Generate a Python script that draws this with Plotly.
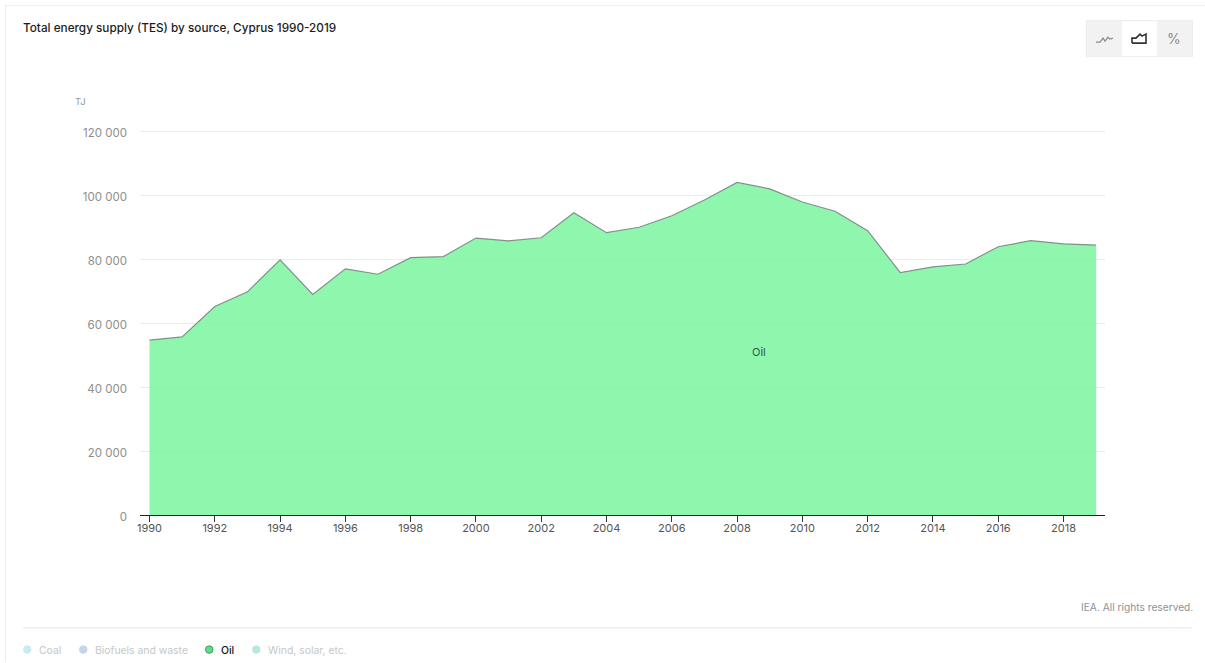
import plotly.graph_objects as go

years = list(range(1990, 2020))
oil = [54700, 55700, 65200, 69800, 79800, 69000, 77000, 75300, 80500, 80800,
       86600, 85700, 86700, 94500, 88300, 90000, 93600, 98500, 104000, 102000,
       97900, 95000, 88900, 75800, 77600, 78500, 83900, 85800, 84800, 84400]
y_ticks = [0, 20000, 40000, 60000, 80000, 100000, 120000]
x_ticks = list(range(1990, 2019, 2))
legend_names = ["Coal", "Biofuels and waste", "Oil", "Wind, solar, etc."]
legend_dots = ["#c9ebf4", "#c6d3ec", "#5fdc88", "#b9e8e2"]
legend_rings = ["#c9ebf4", "#c6d3ec", "#3d9a60", "#b9e8e2"]
legend_text = ["#c4c8c8", "#c4c8c8", "#111111", "#c4c8c8"]
legend_x = [23, 79, 205, 252]
title = "Total energy supply (TES) by source, Cyprus 1990-2019"
unit = "TJ"
credit = "IEA. All rights reserved."

W, H = 1205, 663
L, R, T, B = 140, 1105, 129, 515.5
Y_TOP = 120000 * (B - T) / 384.2
FONT = "Inter, 'Noto Sans', sans-serif"


def px(x):
    return (x - L) / (R - L)


def py(y):
    return (B - y) / (B - T)


shapes = []


def rect(x0, y0, x1, y1, fill, line=None):
    shapes.append(dict(type="rect", xref="paper", yref="paper", layer="below",
                       x0=px(x0), x1=px(x1), y0=py(y0), y1=py(y1), fillcolor=fill,
                       line=dict(color=line or fill, width=1 if line else 0)))


def seg(x0, y0, x1, y1, color):
    shapes.append(dict(type="line", xref="paper", yref="paper", layer="below",
                       x0=px(x0), x1=px(x1), y0=py(y0), y1=py(y1),
                       line=dict(color=color, width=1)))


def poly(points, color, width):
    d = "M" + " L".join(f"{px(a):.5f},{py(b):.5f}" for a, b in points)
    shapes.append(dict(type="path", xref="paper", yref="paper", path=d,
                       line=dict(color=color, width=width)))


def text(x, y, s, size, color, anchor="left", weight=400):
    return dict(xref="paper", yref="paper", x=px(x), y=py(y), text=s, showarrow=False,
                xanchor=anchor, yanchor="middle", borderpad=0,
                font=dict(family=FONT, size=size, color=color, weight=weight))


# card chrome
seg(5, 5.5, W, 5.5, "#eeeeee")
seg(5.5, 5, 5.5, H, "#eeeeee")
seg(23, 628.5, 1192, 628.5, "#e8e8e8")

# view switch
rect(1086.5, 20.5, 1192.5, 56.5, "#f2f2f2", "#ececec")
rect(1122, 21, 1157, 56, "#ffffff")
poly([(1096, 42), (1100, 42), (1103, 38), (1105, 41), (1108, 37), (1110, 39), (1113, 38)], "#8c8c8c", 1.2)
poly([(1132, 43), (1132, 38), (1136, 38), (1140, 34), (1142, 36), (1146, 34), (1146, 43), (1132, 43)], "#333333", 1.6)

annotations = [
    text(22, 28, title, 11.75, "#1c1c1c", weight=500),
    text(73.5, 101, unit, 9.5, "#8f9aa0"),
    text(759, 352.5, "Oil", 11, "#2d5a4a", "center"),
    text(1193.5, 608, credit, 10.2, "#8f9296", "right"),
    text(1174, 38, "%", 14, "#8c8c8c", "center"),
]

# legend row
for name, dot, ring, col, x in zip(legend_names, legend_dots, legend_rings, legend_text, legend_x):
    shapes.append(dict(type="circle", xref="paper", yref="paper",
                       x0=px(x + 0.5), x1=px(x + 8), y0=py(654), y1=py(646.5),
                       fillcolor=dot, line=dict(color=ring, width=1)))
    annotations.append(text(x + 14.5, 651, name, 10.4, col, weight=500 if name == "Oil" else 400))

fig = go.Figure(go.Scatter(
    x=years, y=oil, mode="lines", name="Oil", fill="tozeroy",
    fillcolor="rgba(123,246,159,0.85)",
    line=dict(color="#80908a", width=1.2), hoverinfo="x+y", showlegend=False,
))

fig.update_layout(
    width=W, height=H, autosize=False,
    margin=dict(l=L, r=W - R, t=T, b=H - B, pad=0),
    paper_bgcolor="#ffffff", plot_bgcolor="#ffffff",
    separators=". ", showlegend=False,
    font=dict(family=FONT),
    shapes=shapes, annotations=annotations,
)
x_unit = (1063.5 - 149.5) / 28
fig.update_xaxes(
    range=[1990 - (149.5 - L) / x_unit, 2018 + (R - 1063.5) / x_unit],
    tickmode="array", tickvals=x_ticks, ticktext=[str(t) for t in x_ticks],
    ticks="outside", ticklen=6, tickwidth=1, tickcolor="#333333",
    showline=True, linecolor="#222222", linewidth=1.2, showgrid=False, zeroline=False,
    ticklabelstandoff=-3,
    tickfont=dict(family=FONT, size=11, color="#555555"), tickangle=0,
)
fig.update_yaxes(
    range=[0, Y_TOP], tickmode="array", tickvals=y_ticks, tickformat=",d",
    gridcolor="#ececec", gridwidth=1, zeroline=False, showline=False, ticks="",
    ticklabelstandoff=12, ticklabelshift=2,
    tickfont=dict(family=FONT, size=11.5, color="#8e8e8e"),
)

fig.write_html("out.html", config=dict(displayModeBar=False),
               post_script="document.body.style.margin='0';document.body.style.overflow='hidden';")
